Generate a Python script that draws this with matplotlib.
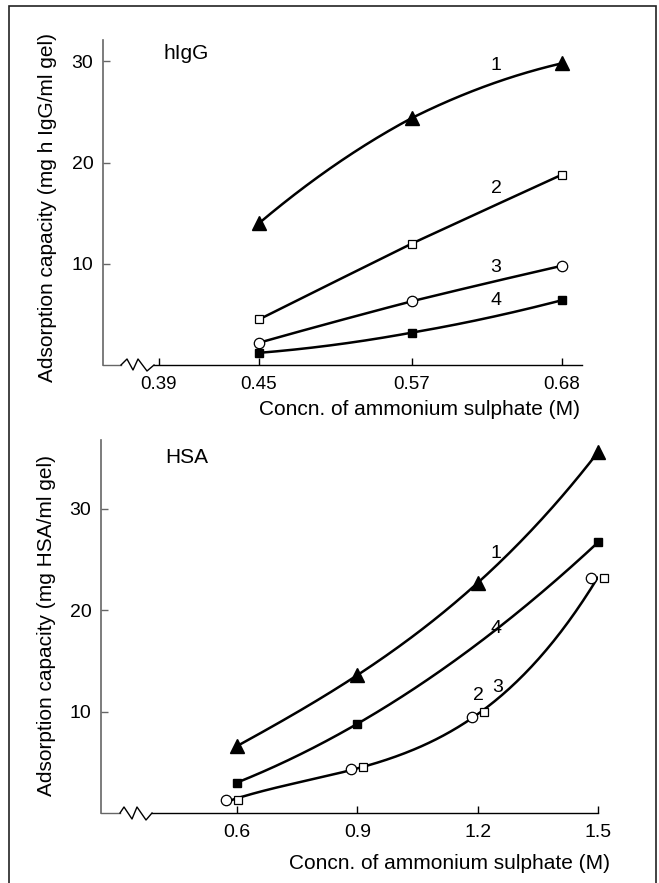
import numpy as np
import matplotlib
matplotlib.use('Agg')
import matplotlib.pyplot as plt
from matplotlib.lines import Line2D
from matplotlib.patches import Rectangle

plt.rcParams['font.family'] = ['Liberation Sans', 'DejaVu Sans']

# hIgG panel
igg_conc = [0.45, 0.57, 0.68]
igg_1 = [14.0, 24.4, 29.8]
igg_2 = [4.5, 12.0, 18.8]
igg_3 = [2.2, 6.3, 9.8]
igg_4 = [1.2, 3.2, 6.4]
igg_ticks = [0.39, 0.45, 0.57, 0.68]
igg_ticklabels = ['0.39', '0.45', '0.57', '0.68']

# HSA panel
hsa_conc = [0.6, 0.9, 1.2, 1.5]
hsa_1 = [6.6, 13.6, 22.7, 35.6]
hsa_4_conc = [0.6, 0.9, 1.5]
hsa_4 = [3.0, 8.8, 26.7]
hsa_2_conc = [0.573, 0.885, 1.185, 1.483]   # circles sit a little left of the tick
hsa_2 = [1.3, 4.3, 9.5, 23.2]
hsa_3_conc = [0.603, 0.915, 1.215, 1.515]   # squares a little right
hsa_3 = [1.3, 4.5, 10.0, 23.2]
hsa_ticks = [0.6, 0.9, 1.2, 1.5]
hsa_ticklabels = ['0.6', '0.9', '1.2', '1.5']

W, H = 659, 883
fig = plt.figure(figsize=(W / 100, H / 100), dpi=100)

# the hIgG axis is not drawn to one scale; tick spacing
knot_v = [0.0, 0.39, 0.45, 0.57, 0.68, 1.0]
knot_p = [-6.5, 0.0, 1.0, 2.53, 4.03, 8.394]


def fwd(x):
    return np.interp(x, knot_v, knot_p)


def inv(p):
    return np.interp(p, knot_p, knot_v)


def smooth(x, y, n=200):
    xx = np.linspace(x[0], x[-1], n)
    return xx, np.polyval(np.polyfit(x, y, len(x) - 1), xx)


def axis_line(ax, gray_end, zig):
    # x axis with a zigzag break, offsets given in pixels from the axes origin
    pos = ax.get_position()
    w, h = pos.width * W, pos.height * H
    kw = dict(transform=ax.transAxes, clip_on=False, lw=1.0)
    ax.add_line(Line2D([0, gray_end / w], [0, 0], color='#666', **kw))
    zx = [p[0] / w for p in zig]
    zy = [p[1] / h for p in zig]
    ax.add_line(Line2D(zx, zy, color='k', **kw))
    ax.add_line(Line2D([zx[-1], 1], [0, 0], color='k', **kw))


def style(ax, xsize):
    for s in ['top', 'right', 'bottom']:
        ax.spines[s].set_visible(False)
    ax.spines['left'].set_color('#666')
    ax.spines['left'].set_linewidth(1.2)
    ax.tick_params(axis='both', direction='in', length=5, width=1.0)
    ax.tick_params(axis='x', pad=8, color='k', labelsize=xsize)
    ax.tick_params(axis='y', pad=7, color='#666', labelsize=14)
    ax.set_yticks([10, 20, 30])


line_kw = dict(color='k', lw=1.8, zorder=2)
tri = dict(ls='none', marker='^', ms=9.5, mfc='k', mec='k', zorder=3, clip_on=False)
sq_open = dict(ls='none', marker='s', ms=6, mfc='white', mec='k', mew=0.9, zorder=3, clip_on=False)
sq_fill = dict(ls='none', marker='s', ms=6, mfc='k', mec='k', zorder=3, clip_on=False)
circ = dict(ls='none', marker='o', ms=7.5, mfc='white', mec='k', mew=0.9, zorder=3, clip_on=False)

# ---- top: hIgG ----
ax1 = fig.add_axes([103 / W, 1 - 365 / H, 479 / W, 325 / H])
ax1.set_xscale('function', functions=(fwd, inv))
ax1.set_xlim(0.3564, 0.6947)
ax1.set_ylim(0, 32.1)
style(ax1, 13.5)
ax1.set_xticks(igg_ticks)
ax1.set_xticklabels(igg_ticklabels)

for ys, mk in [(igg_1, tri), (igg_2, sq_open), (igg_3, circ), (igg_4, sq_fill)]:
    ax1.plot(*smooth(igg_conc, ys), **line_kw)
    ax1.plot(igg_conc, ys, **mk)

for lab, (x, y) in zip('1234', [(0.6316, 29.6), (0.6316, 17.4), (0.6316, 9.6), (0.6316, 6.4)]):
    ax1.text(x, y, lab, fontsize=14, ha='center', va='center')
ax1.text(0.173, 0.957, 'hIgG', transform=ax1.transAxes, fontsize=15, ha='center', va='center')

axis_line(ax1, 18, [(18, 0), (24, 6), (30, -5), (35, 6), (44, -6), (51, 0)])
ax1.set_xlabel('Concn. of ammonium sulphate (M)', fontsize=15, loc='right')
ax1.xaxis.set_label_coords(0.9958, -0.108)
ax1.set_ylabel('Adsorption capacity (mg h IgG/ml gel)', fontsize=15)
ax1.yaxis.set_label_coords(-0.095, 0.4846)

# ---- bottom: HSA ----
ax2 = fig.add_axes([101 / W, 1 - 813 / H, 497 / W, 373 / H])
ax2.set_xlim(0.261, 1.5)
ax2.set_ylim(0, 36.8)
style(ax2, 14)
ax2.set_xticks(hsa_ticks)
ax2.set_xticklabels(hsa_ticklabels)

ax2.plot(*smooth(hsa_conc, hsa_1), **line_kw)
ax2.plot(hsa_conc, hsa_1, **tri)
ax2.plot(*smooth(hsa_4_conc, hsa_4), **line_kw)
ax2.plot(hsa_4_conc, hsa_4, **sq_fill)
# curves 2 and 3 share one line
mid_x = [(a + b) / 2 for a, b in zip(hsa_2_conc, hsa_3_conc)]
mid_y = [(a + b) / 2 for a, b in zip(hsa_2, hsa_3)]
ax2.plot(*smooth(mid_x, mid_y), **line_kw)
ax2.plot(hsa_2_conc, hsa_2, **circ)
ax2.plot(hsa_3_conc, hsa_3, **sq_open)

for lab, (x, y) in zip('1423', [(1.246, 25.6), (1.246, 18.2), (1.202, 11.6), (1.249, 12.4)]):
    ax2.text(x, y, lab, fontsize=14, ha='center', va='center')
ax2.text(0.173, 0.954, 'HSA', transform=ax2.transAxes, fontsize=15, ha='center', va='center')

axis_line(ax2, 19, [(19, 0), (23, 6), (31, -6), (36, 6), (45, -7), (51, 0)])
ax2.set_xlabel('Concn. of ammonium sulphate (M)', fontsize=15, loc='right')
ax2.xaxis.set_label_coords(1.024, -0.110)
ax2.set_ylabel('Adsorption capacity (mg HSA/ml gel)', fontsize=15)
ax2.yaxis.set_label_coords(-0.0905, 0.5027)

# frame around the whole figure
fig.add_artist(Rectangle((8.5 / W, -0.02), 647 / W, 0.9932 + 0.02,
                         transform=fig.transFigure, fill=False, lw=1.2, ec='#222'))

fig.savefig('out.png', dpi=100)
